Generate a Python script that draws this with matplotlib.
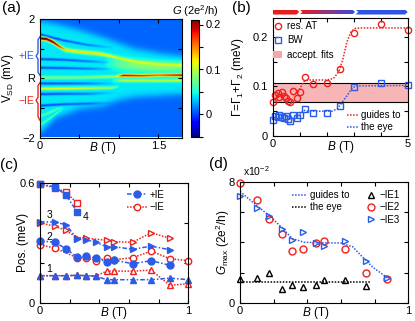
import numpy as np
import matplotlib
matplotlib.use('Agg')
import matplotlib.pyplot as plt
from matplotlib.patches import Polygon, Patch
from matplotlib.lines import Line2D

plt.rcParams['font.family'] = ['Liberation Sans', 'DejaVu Sans']
plt.rcParams['mathtext.fontset'] = 'custom'
plt.rcParams['mathtext.rm'] = 'Liberation Sans'
plt.rcParams['mathtext.it'] = 'Liberation Sans:italic'
plt.rcParams['font.size'] = 8.5
plt.rcParams['xtick.direction'] = 'in'
plt.rcParams['ytick.direction'] = 'in'
plt.rcParams['xtick.top'] = True
plt.rcParams['ytick.right'] = True
plt.rcParams['xtick.labelsize'] = 8
plt.rcParams['ytick.labelsize'] = 8
plt.rcParams['xtick.major.size'] = 3
plt.rcParams['ytick.major.size'] = 3
plt.rcParams['xtick.major.pad'] = 2.5
plt.rcParams['axes.linewidth'] = 0.8

RED = '#f0201c'
BLUE = '#2b5ce6'

# %% data (a): ridge positions read from the map
env_B = [0, 0.2, 0.5, 0.8, 1.0, 1.2, 1.5, 1.8]
env_top = [1.9, 1.8, 1.6, 1.35, 1.15, 0.97, 0.82, 0.72]
env_bot = [-1.85, -1.35, -1.05, -0.95, -0.75, -0.65, -0.6, -0.55]

ridge_main_B = [0, 0.08, 0.16, 0.24, 0.32, 0.45, 0.6, 0.75, 0.9, 1.05, 1.25, 1.5, 1.8]
ridge_main_V = [1.32, 1.3, 1.2, 1.05, 0.93, 0.88, 0.84, 0.8, 0.72, 0.62, 0.52, 0.46, 0.42]
ridge_main_G = [0.2, 0.21, 0.19, 0.14, 0.09, 0.085, 0.09, 0.085, 0.07, 0.055, 0.045, 0.04, 0.04]

ridge_R_B = [0, 0.5, 0.95, 1.05, 1.3, 1.5, 1.8]
ridge_R_V = [0.0, 0.0, 0.03, 0.07, 0.06, 0.08, 0.08]
ridge_R_G = [0.045, 0.04, 0.05, 0.16, 0.14, 0.12, 0.16]

ridge_neg_B = [0, 0.3, 0.6, 0.9, 1.0]
ridge_neg_V = [-0.38, -0.37, -0.36, -0.35, -0.3]
ridge_neg_G = [0.075, 0.08, 0.07, 0.05, 0.0]

dark_B = [0, 0.3, 0.6, 0.95]
dark_V = [[0.62, 0.6, 0.55, 0.5], [0.33, 0.32, 0.3, 0.28],
          [-0.2, -0.2, -0.2, -0.2], [-0.56, -0.55, -0.55, -0.52],
          [-0.95, -0.9, -0.88, -0.85], [1.45, 1.25, 1.1, 1.0]]
dark_G = [-0.045, -0.04, -0.03, 0.0]

fan_B = [0, 0.1, 0.2, 0.3]
fan_V = [[-1.3, -1.2, -1.08, -1.0], [-1.6, -1.42, -1.22, -1.05]]
fan_G = [0.03, 0.03, 0.025, 0.0]

green_B = [0.8, 1.0, 1.2, 1.5, 1.8]
green_V = [0.5, 0.45, 0.4, 0.35, 0.35]
green_G = [0.0, 0.03, 0.04, 0.04, 0.035]

lowR_B = [0, 0.9, 1.05, 1.8]
lowR_G = [0.0, 0.0, 0.06, 0.06]

# %% data (b)
B_b = [0.0, 0.1, 0.18, 0.25, 0.33, 0.40, 0.48, 0.55, 0.65, 0.76, 0.89, 1.02,
       1.2, 1.5, 2.0, 2.5, 3.0, 4.0, 5.0]
res_AT = [0.069, 0.083, 0.087, 0.079, 0.088, 0.080, 0.077, 0.070, 0.068, 0.091,
          0.076, 0.088, 0.120, 0.105, 0.106, 0.135, 0.207, 0.226, 0.214]
BW = [0.032, 0.041, 0.038, 0.042, 0.039, 0.036, 0.040, 0.034, 0.030, 0.043,
      0.037, 0.042, 0.054, 0.047, 0.047, 0.061, 0.098, 0.106, 0.103]
guide_AT_B = [0.93, 1.05, 1.15, 1.3, 2.0, 2.25, 2.45, 2.6, 2.75, 2.9, 3.05, 3.3, 5.0]
guide_AT = [0.088, 0.10, 0.11, 0.113, 0.113, 0.116, 0.13, 0.155, 0.19, 0.21, 0.217, 0.218, 0.218]
guide_BW_B = [1.0, 1.15, 1.3, 2.2, 2.4, 2.6, 2.8, 2.95, 3.1, 5.0]
guide_BW = [0.043, 0.052, 0.05, 0.05, 0.055, 0.07, 0.085, 0.097, 0.101, 0.102]
fit_lo, fit_hi = 0.068, 0.106

# %% data (c)
B_c = [0, 0.1, 0.175, 0.25, 0.31, 0.375, 0.45, 0.5, 0.625, 0.75, 0.875, 1.0]
p1 = [0.135, 0.135, 0.135, 0.137, 0.135, 0.133, 0.115, 0.115, 0.115, 0.115, 0.123, 0.115]
m1 = [0.135, 0.135, 0.135, 0.137, 0.135, 0.133, 0.158, 0.158, 0.158, 0.163, 0.087, 0.095]
p2 = [0.31, 0.302, 0.27, 0.228, 0.232, 0.223, 0.205, 0.213, 0.195, 0.21, 0.187]
B_m2 = [0, 0.1, 0.25, 0.31, 0.375, 0.45, 0.5, 0.625, 0.75, 0.875, 1.0]
m2 = [0.29, 0.273, 0.225, 0.225, 0.21, 0.222, 0.215, 0.225, 0.258, 0.22, 0.21]
p3 = [0.405, 0.403, 0.39, 0.32, 0.315, 0.302, 0.28, 0.28, 0.267, 0.283, 0.265]
B_m3 = [0, 0.1, 0.175, 0.25, 0.31, 0.45, 0.5, 0.625, 0.75, 0.875]
m3 = [0.40, 0.382, 0.362, 0.325, 0.323, 0.312, 0.305, 0.302, 0.35, 0.322]
p4 = [0.592, 0.58, 0.538, 0.455]
m4 = [0.592, 0.575, 0.553, 0.497]

# %% data (d)
d_IE1 = [1.58, 1.62, 1.95, 0.92, 1.18, 1.03, 1.18, 1.51, 1.51, 1.12]
d_IE2 = [7.91, 6.78, 5.53, 4.52, 3.42, 3.55, 3.93, 4.08, 3.53, 1.99, 1.56]
d_IE3 = [7.06, 6.23, 5.72, 4.87, 4.14, 4.69, 3.97, 3.77, 4.1, 2.78, 1.66]
guide_d_B = [0, 0.1, 0.18, 0.25, 0.31, 0.38, 0.46, 0.6, 0.67, 0.73, 0.79, 0.88]
guide_d = [7.35, 6.4, 5.7, 4.95, 4.25, 4.0, 3.97, 3.95, 3.7, 3.0, 2.35, 1.62]
guide_d1_B = [0, 0.78]
guide_d1 = [1.37, 1.37]

W, H = 415, 321
fig = plt.figure(figsize=(W / 100, H / 100), dpi=100)


def box(l, t, r, b):
    return [l / W, 1 - b / H, (r - l) / W, (b - t) / H]


# %% (a) map
B_map = np.linspace(0, 1.8, 181)
V_map = np.linspace(-2, 2, 241)
BB, VV = np.meshgrid(B_map, V_map)


def ridge(Bk, Vk, Gk, w):
    v0 = np.interp(B_map, Bk, Vk)[None, :]
    g0 = np.interp(B_map, Bk, Gk)[None, :]
    return g0 * np.exp(-((VV - v0) / w) ** 2)


top = np.interp(B_map, env_B, env_top)[None, :]
bot = np.interp(B_map, env_B, env_bot)[None, :]
inside = 1 / (1 + np.exp((VV - top) / 0.07)) / (1 + np.exp((bot - VV) / 0.07))
G = 0.008 + 0.034 * inside
G += ridge(ridge_main_B, ridge_main_V, ridge_main_G, 0.055)
G += ridge(ridge_R_B, ridge_R_V, ridge_R_G, 0.045)
G += ridge(ridge_neg_B, ridge_neg_V, ridge_neg_G, 0.04)
for dv in dark_V:
    G += ridge(dark_B, dv, dark_G, 0.04)
for fv in fan_V:
    G += ridge(fan_B, fv, fan_G, 0.035)
G += ridge(green_B, green_V, green_G, 0.18)
G += ridge(lowR_B, [-0.1] * 4, lowR_G, 0.05)

ax_a = fig.add_axes(box(40, 19, 182, 137.5))
im = ax_a.imshow(G, extent=[0, 1.8, -2, 2], origin='lower', aspect='auto',
                 cmap='jet', vmin=-0.05, vmax=0.21, interpolation='bilinear')
ax_a.set_xlim(0, 1.8)
ax_a.set_ylim(-2, 2)
ax_a.set_xticks([0, 0.5, 1, 1.5])
ax_a.set_xticklabels(['0', '', '', '1.5'])
ax_a.set_yticks([-2, -1, 0, 1, 2])
ax_a.set_yticklabels(['\u22122', '', 'R', '', '2'])
ax_a.text(0.8, -2.1, '$B$ (T)', ha='center', va='top')
ax_a.set_ylabel('V$_{\\mathrm{SD}}$ (mV)')
ax_a.yaxis.set_label_coords(-0.17, 0.5)
tr = ax_a.get_yaxis_transform()
ax_a.plot([0.0, -0.014, -0.014, -0.028, -0.014, -0.014, 0.0],
          [1.4, 1.3, 0.85, 0.75, 0.65, 0.2, 0.1], color=BLUE, lw=1,
          transform=tr, clip_on=False)
ax_a.plot([0.0, -0.014, -0.014, -0.028, -0.014, -0.014, 0.0],
          [-0.15, -0.25, -0.65, -0.75, -0.85, -1.3, -1.42], color=RED, lw=1,
          transform=tr, clip_on=False)
ax_a.text(-0.04, 0.75, '+IE', color=BLUE, fontsize=7.5, ha='right',
          va='center', transform=tr)
ax_a.text(-0.04, -0.78, '\u2212IE', color=RED, fontsize=7.5, ha='right',
          va='center', transform=tr)

cax = fig.add_axes(box(191, 20, 199, 137))
cb = fig.colorbar(im, cax=cax)
cb.set_ticks([-0.05, 0, 0.05, 0.1, 0.15, 0.2])
cb.set_ticklabels(['', '0', '', '0.1', '', '0.2'])
cax.tick_params(direction='out', length=3, width=0.8, pad=2)
cb.outline.set_linewidth(0.8)
fig.text(195 / W, 1 - 3 / H, '$G$ (2e$^2$/h)', ha='center', va='top', fontsize=8)

# %% (b) widths
ax_b = fig.add_axes(box(272.7, 18, 407.7, 136))
ax_b.axhspan(fit_lo, fit_hi, facecolor='#f7b5b5', edgecolor='none')
ax_b.axhline(fit_lo, color='k', lw=0.8)
ax_b.axhline(fit_hi, color='k', lw=0.8)
ax_b.plot(guide_AT_B, guide_AT, ls=(0, (1, 1)), color=RED, lw=1.1)
ax_b.plot(guide_BW_B, guide_BW, ls=(0, (1, 1)), color=BLUE, lw=1.1)
ax_b.plot(B_b, res_AT, 'o', mfc='none', mec=RED, ms=4.5, mew=1, clip_on=False)
ax_b.plot(B_b, BW, 's', mfc='none', mec=BLUE, ms=3.8, mew=1, clip_on=False)
ax_b.set_xlim(0, 5)
ax_b.set_ylim(0, 0.238)
ax_b.set_xticks(range(6))
ax_b.set_xticklabels(['0', '', '', '', '', '5'])
ax_b.set_yticks([0, 0.05, 0.1, 0.15, 0.2])
ax_b.set_yticklabels(['0', '', '0.1', '', '0.2'])
ax_b.text(2.5, -0.007, '$B$ (T)', ha='center', va='top')
ax_b.set_ylabel('\u0393=\u0393$_1$+\u0393$_2$ (meV)')
ax_b.yaxis.set_label_coords(-0.2, 0.5)
h1 = [Line2D([], [], marker='o', ls='none', mfc='none', mec=RED, ms=4.5, mew=1),
      Line2D([], [], marker='s', ls='none', mfc='none', mec=BLUE, ms=3.8, mew=1),
      Patch(facecolor='#f7a5a5', edgecolor='none')]
leg1 = ax_b.legend(h1, ['res. AT', 'BW', 'accept. fits'], loc='upper left',
                   bbox_to_anchor=(0.0, 0.975), frameon=False, fontsize=7,
                   borderpad=0, handlelength=1.0, handletextpad=0.5,
                   labelspacing=0.45, borderaxespad=0)
ax_b.add_artist(leg1)
h2 = [Line2D([], [], ls=(0, (1, 1)), color=RED, lw=1.1),
      Line2D([], [], ls=(0, (1, 1)), color=BLUE, lw=1.1)]
ax_b.legend(h2, ['guides to', 'the eye'], loc='lower left',
            bbox_to_anchor=(0.55, 0.03), frameon=False, fontsize=7,
            borderpad=0, handlelength=1.1, handletextpad=0.3,
            labelspacing=0.25, borderaxespad=0)

# arrow bar above (b)
ax_t = fig.add_axes(box(272.7, 9.5, 407.7, 14.5))
ax_t.axis('off')
ax_t.add_patch(Polygon([(0, 0), (0.88, 0), (0.98, 0.5), (0.88, 1), (0, 1)],
                       closed=True, facecolor='#ee1a1a', edgecolor='none'))
grad_shape = Polygon([(1.0, 0), (2.95, 0), (3.05, 0.5), (2.95, 1), (1.0, 1), (1.1, 0.5)],
                     closed=True, facecolor='none', edgecolor='none')
ax_t.add_patch(grad_shape)
c0 = np.array([0.93, 0.10, 0.12])
c1 = np.array([0.20, 0.30, 0.92])
tt = np.linspace(0, 1, 64)[:, None]
grad = (c0 * (1 - tt) + c1 * tt)[None, :, :]
gim = ax_t.imshow(grad, extent=[1.0, 3.05, 0, 1], aspect='auto')
gim.set_clip_path(grad_shape)
ax_t.add_patch(Polygon([(3.07, 0), (4.9, 0), (5.0, 0.5), (4.9, 1), (3.07, 1), (3.17, 0.5)],
                       closed=True, facecolor='#2f55e4', edgecolor='none'))
ax_t.set_xlim(0, 5)
ax_t.set_ylim(0, 1)

# %% (c) positions
ax_c = fig.add_axes(box(40, 182.7, 188.3, 302.7))
dd = (0, (3, 1.3, 1, 1.3))
dt = (0, (1, 1))
kw_p = dict(color=BLUE, ls=dd, lw=1.1, ms=5, clip_on=False)
kw_m = dict(color=RED, ls=dt, lw=1.1, ms=4.6, mfc='white', mew=1, clip_on=False)
ax_c.plot(B_c, m1, marker='^', **kw_m)
ax_c.plot(B_m2, m2, marker='o', **kw_m)
ax_c.plot(B_m3, m3, marker='>', **kw_m)
ax_c.plot(B_c[:4], m4, marker='s', **kw_m)
ax_c.plot(B_c, p1, marker='^', **kw_p)
ax_c.plot(B_c[:11], p2, marker='o', **kw_p)
ax_c.plot(B_c[:11], p3, marker='>', **kw_p)
ax_c.plot(B_c[:4], p4, marker='s', ms=4.4, color=BLUE, ls=dd, lw=1.1, clip_on=False)
ax_c.set_xlim(0, 1)
ax_c.set_ylim(0, 0.6)
ax_c.set_xticks([0, 0.2, 0.4, 0.6, 0.8, 1.0])
ax_c.set_xticklabels(['0', '', '', '', '', '1'])
ax_c.set_yticks([0, 0.2, 0.4, 0.6])
ax_c.set_yticklabels(['0', '', '', '0.6'])
ax_c.text(0.5, -0.012, '$B$ (T)', ha='center', va='top')
ax_c.set_ylabel('Pos. (meV)')
ax_c.yaxis.set_label_coords(-0.075, 0.5)
for s, x, y in [('1', 0.063, 0.17), ('2', 0.063, 0.33), ('3', 0.066, 0.438), ('4', 0.31, 0.427)]:
    ax_c.text(x, y, s, ha='center', va='center', fontsize=7.5)
hc = [Line2D([], [], color=BLUE, ls=dd, lw=1.1, marker='o', ms=5),
      Line2D([], [], color=RED, ls=dt, lw=1.1, marker='o', ms=4.6, mfc='white', mew=1)]
ax_c.legend(hc, ['+IE', '\u2212IE'], loc='upper left', bbox_to_anchor=(0.59, 0.94),
            frameon=False, fontsize=7, borderpad=0, handlelength=2.0,
            handletextpad=0.3, labelspacing=0.25, borderaxespad=0)

# %% (d) maxima
ax_d = fig.add_axes(box(240, 181.5, 408.3, 303))
ax_d.plot(guide_d_B, guide_d, ls=dt, color=BLUE, lw=1.1)
ax_d.plot(guide_d1_B, guide_d1, ls=dt, color='k', lw=1.1)
ax_d.plot(B_c[:10], d_IE1, '^', mfc='none', mec='k', ms=5, mew=1, clip_on=False)
ax_d.plot(B_c[:11], d_IE2, 'o', mfc='none', mec=RED, ms=5, mew=1, clip_on=False)
ax_d.plot(B_c[:11], d_IE3, '>', mfc='none', mec=BLUE, ms=5, mew=1, clip_on=False)
ax_d.set_xlim(0, 1)
ax_d.set_ylim(0, 8)
ax_d.set_xticks([0, 0.2, 0.4, 0.6, 0.8, 1.0])
ax_d.set_xticklabels(['0', '', '', '', '', '1'])
ax_d.set_yticks([0, 2, 4, 6, 8])
ax_d.set_yticklabels(['0', '', '', '', '8'])
ax_d.text(0.45, -0.16, '$B$ (T)', ha='center', va='top')
ax_d.set_ylabel('$G_{\\mathrm{max}}$ (2e$^2$/h)')
ax_d.yaxis.set_label_coords(-0.045, 0.5)
ax_d.text(0.02, 1.03, 'x10$^{-2}$', transform=ax_d.transAxes, ha='left',
          va='bottom', fontsize=7.5)
hd1 = [Line2D([], [], ls=dt, color=BLUE, lw=1.1),
       Line2D([], [], ls=dt, color='k', lw=1.1)]
leg_d = ax_d.legend(hd1, ['guides to', 'the eye'], loc='upper left',
                    bbox_to_anchor=(0.31, 0.93), frameon=False, fontsize=7,
                    borderpad=0, handlelength=1.5, handletextpad=0.3,
                    labelspacing=0.25, borderaxespad=0)
ax_d.add_artist(leg_d)
hd2 = [Line2D([], [], marker='^', ls='none', mfc='none', mec='k', ms=5, mew=1),
       Line2D([], [], marker='o', ls='none', mfc='none', mec=RED, ms=5, mew=1),
       Line2D([], [], marker='>', ls='none', mfc='none', mec=BLUE, ms=5, mew=1)]
ax_d.legend(hd2, ['\u2212IE1', '\u2212IE2', '\u2212IE3'], loc='upper left',
            bbox_to_anchor=(0.75, 0.93), frameon=False, fontsize=7,
            borderpad=0, handlelength=1.0, handletextpad=0.4,
            labelspacing=0.25, borderaxespad=0)

# panel letters
for s, x, y in [('(a)', 2, 1), ('(b)', 232, 1), ('(c)', 0, 158), ('(d)', 209, 157)]:
    fig.text(x / W, 1 - y / H, s, ha='left', va='top', fontsize=11)

fig.savefig('out.png', dpi=100)
